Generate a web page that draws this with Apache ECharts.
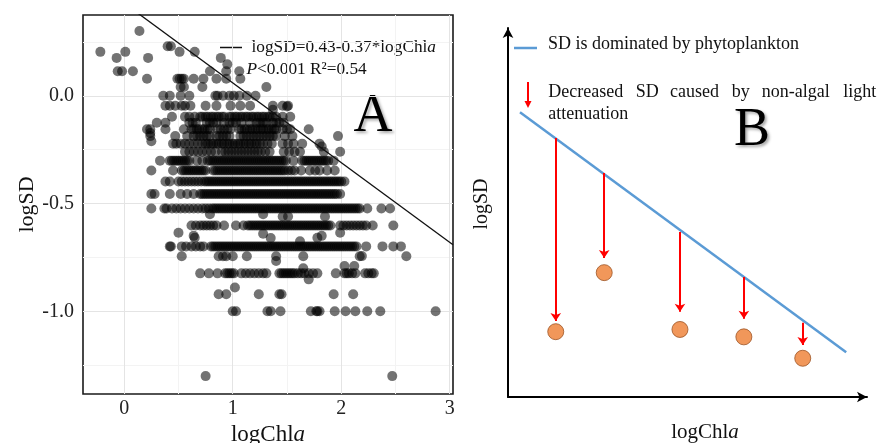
<!DOCTYPE html>
<html>
<head>
<meta charset="utf-8">
<script src="https://cdn.jsdelivr.net/npm/echarts@6/dist/echarts.min.js"></script>
<style>
  html, body { margin: 0; padding: 0; background: #ffffff; }
  #chart { width: 879px; height: 443px; }
</style>
</head>
<body>
<div id="chart"></div>
<script>
// ---------- Panel A: observed logSD vs logChla ----------
// Secchi depth readings fall on discrete levels; each list holds the logChla
// values recorded at that logSD level.
const chlaAtSD200 = [0.14];                                   // logSD 0.301
const chlaAtSD170 = [0.40, 0.43];                             // 0.230
const chlaAtSD160 = [-0.22, 0.01, 0.51, 0.65];                // 0.204
const chlaAtSD150 = [-0.07, 0.22, 0.89];                      // 0.176
const chlaAtSD140 = [0.95];                                   // 0.146
const chlaAtSD130 = [-0.06, -0.02, 0.08, 0.79, 0.94, 1.06];   // 0.114
const chlaAtSD120 = [0.21, 0.49, 0.51, 0.53, 0.55, 0.64, 0.73, 0.85, 0.94, 1.07];
const chlaAtSD110 = [0.52, 0.55, 0.72, 1.31];
const chlaAtSD100 = [0.36, 0.42, 0.52, 0.60, 0.84, 0.86, 0.91, 0.97, 1.01, 1.06, 1.13, 1.21];
const chlaAtSD090 = [0.38, 0.42, 0.47, 0.53, 0.56, 0.61, 0.75, 0.85, 0.98, 1.07, 1.16, 1.37, 1.46, 1.51];
const chlaAtSD080 = [0.44, 0.56, 0.60, 0.65, 0.70, 0.72, 0.75, 0.77, 0.80, 0.82, 0.85, 0.87, 0.90, 0.92,
  0.97, 0.99, 1.02, 1.04, 1.07, 1.09, 1.12, 1.14, 1.17, 1.19, 1.22, 1.24, 1.27, 1.29, 1.32, 1.34, 1.37,
  1.40, 1.46, 1.53];
const chlaAtSD075 = [0.30, 0.38, 0.60, 0.63, 0.66, 0.76, 0.79, 0.82, 0.85, 0.92, 0.97, 1.00, 1.03, 1.08,
  1.16, 1.22, 1.25, 1.28, 1.31, 1.37, 1.40, 1.43, 1.47];
const chlaAtSD070 = [0.21, 0.24, 0.38, 0.55, 0.62, 0.64, 0.67, 0.69, 0.72, 0.74, 0.77, 0.79, 0.86, 0.89,
  0.92, 0.95, 0.98, 1.06, 1.08, 1.11, 1.13, 1.16, 1.18, 1.21, 1.23, 1.26, 1.28, 1.31, 1.33, 1.36, 1.38,
  1.40, 1.46, 1.50, 1.53, 1.70];
const chlaAtSD065 = [0.24, 0.47, 0.58, 0.64, 0.67, 0.70, 0.73, 0.76, 0.79, 0.85, 0.88, 0.91, 0.94, 0.97,
  1.07, 1.10, 1.13, 1.16, 1.19, 1.22, 1.25, 1.28, 1.31, 1.34, 1.37, 1.40, 1.48, 1.55, 1.97];
const chlaAtSD060 = [0.45, 0.48, 0.52, 0.56, 0.60, 0.64, 0.68, 0.72, 0.75, 0.77, 0.80, 0.82, 0.85, 0.87,
  0.90, 0.92, 0.95, 0.97, 1.00, 1.02, 1.05, 1.07, 1.10, 1.12, 1.15, 1.17, 1.20, 1.22, 1.25, 1.28, 1.32,
  1.36, 1.46, 1.51, 1.56, 1.64, 1.80];
const chlaAtSD055 = [0.56, 0.60, 0.64, 0.68, 0.72, 0.76, 0.80, 0.84, 0.90, 0.93, 0.96, 0.99, 1.02, 1.05,
  1.08, 1.11, 1.14, 1.17, 1.20, 1.23, 1.26, 1.30, 1.34, 1.47, 1.52, 1.57, 1.62, 1.84, 1.99];
const chlaAtSD050 = [0.33, 0.42, 0.44, 0.46, 0.48, 0.50, 0.52, 0.54, 0.56, 0.58, 0.60, 0.67, 0.72, 0.77,
  0.79, 0.81, 0.83, 0.85, 0.87, 0.89, 0.91, 0.93, 0.95, 0.97, 0.99, 1.01, 1.03, 1.05, 1.07, 1.09, 1.11,
  1.13, 1.15, 1.17, 1.19, 1.21, 1.23, 1.25, 1.27, 1.29, 1.31, 1.33, 1.35, 1.37, 1.39, 1.41, 1.43, 1.45,
  1.47, 1.49, 1.56, 1.64, 1.66, 1.68, 1.70, 1.72, 1.74, 1.76, 1.78, 1.80, 1.82, 1.84, 1.86, 1.88, 1.93];
const chlaAtSD045 = [0.25, 0.45, 0.53, 0.55, 0.57, 0.59, 0.61, 0.63, 0.65, 0.67, 0.69, 0.71, 0.73, 0.75,
  0.82, 0.84, 0.86, 0.88, 0.90, 0.92, 0.94, 0.96, 0.98, 1.00, 1.02, 1.04, 1.06, 1.08, 1.10, 1.12, 1.14,
  1.16, 1.18, 1.20, 1.22, 1.24, 1.26, 1.28, 1.30, 1.32, 1.34, 1.36, 1.38, 1.40, 1.42, 1.44, 1.46, 1.48,
  1.51, 1.54, 1.57, 1.63, 1.71, 1.76, 1.80, 1.87, 1.94];
const chlaAtSD040 = [0.38, 0.42, 0.50, 0.53, 0.56, 0.59, 0.62, 0.65, 0.68, 0.71, 0.74, 0.76, 0.78, 0.80,
  0.82, 0.84, 0.86, 0.88, 0.90, 0.92, 0.94, 0.96, 0.98, 1.00, 1.02, 1.04, 1.06, 1.08, 1.10, 1.12, 1.14,
  1.16, 1.18, 1.20, 1.22, 1.24, 1.26, 1.28, 1.30, 1.32, 1.34, 1.36, 1.38, 1.40, 1.42, 1.44, 1.46, 1.48,
  1.50, 1.52, 1.54, 1.56, 1.58, 1.60, 1.62, 1.64, 1.66, 1.68, 1.70, 1.72, 1.74, 1.76, 1.78, 1.80, 1.82,
  1.84, 1.86, 1.88, 1.90, 1.92, 1.94, 1.96, 1.98, 2.00, 2.03];
const chlaAtSD035 = [0.25, 0.28, 0.42, 0.52, 0.58, 0.64, 0.70, 0.72, 0.74, 0.76, 0.78, 0.80, 0.82, 0.84,
  0.86, 0.88, 0.90, 0.92, 0.94, 0.96, 0.98, 1.00, 1.02, 1.04, 1.06, 1.08, 1.10, 1.12, 1.14, 1.16, 1.18,
  1.20, 1.22, 1.24, 1.26, 1.28, 1.30, 1.32, 1.34, 1.36, 1.38, 1.40, 1.42, 1.44, 1.46, 1.48, 1.50, 1.52,
  1.54, 1.56, 1.58, 1.60, 1.62, 1.64, 1.66, 1.68, 1.70, 1.72, 1.74, 1.76, 1.78, 1.80, 1.82, 1.84, 1.86,
  1.88, 1.90, 1.92, 1.94, 1.96, 1.99];
const chlaAtSD030 = [0.25, 0.37, 0.39, 0.44, 0.48, 0.52, 0.56, 0.60, 0.64, 0.68, 0.72, 0.75, 0.78, 0.81,
  0.83, 0.85, 0.87, 0.89, 0.91, 0.93, 0.95, 0.97, 0.99, 1.01, 1.03, 1.05, 1.07, 1.09, 1.11, 1.13, 1.15,
  1.17, 1.19, 1.21, 1.23, 1.25, 1.27, 1.29, 1.31, 1.33, 1.35, 1.37, 1.39, 1.41, 1.43, 1.45, 1.47, 1.49,
  1.51, 1.53, 1.55, 1.57, 1.59, 1.61, 1.63, 1.65, 1.67, 1.69, 1.71, 1.73, 1.75, 1.77, 1.79, 1.81, 1.83,
  1.85, 1.87, 1.89, 1.91, 1.93, 1.95, 1.97, 1.99, 2.01, 2.03, 2.05, 2.07, 2.09, 2.11, 2.13, 2.15, 2.17,
  2.24, 2.37, 2.45];
const chlaAtSD025 = [0.62, 0.66, 0.70, 0.73, 0.76, 0.79, 0.82, 0.85, 0.92, 1.03, 1.10, 1.14, 1.16, 1.18,
  1.20, 1.22, 1.24, 1.26, 1.28, 1.30, 1.32, 1.34, 1.36, 1.38, 1.40, 1.42, 1.44, 1.46, 1.48, 1.50, 1.52,
  1.54, 1.56, 1.58, 1.60, 1.62, 1.64, 1.66, 1.68, 1.70, 1.72, 1.74, 1.76, 1.78, 1.80, 1.82, 1.84, 1.86,
  1.88, 1.90, 1.99, 2.02, 2.05, 2.08, 2.11, 2.14, 2.17, 2.20, 2.23, 2.29, 2.48];
const chlaAtSD020 = [0.42, 0.43, 0.53, 0.57, 0.62, 0.66, 0.70, 0.73, 0.80, 0.82, 0.84, 0.86, 0.88, 0.90,
  0.92, 0.94, 0.96, 0.98, 1.00, 1.02, 1.04, 1.06, 1.08, 1.10, 1.12, 1.14, 1.16, 1.18, 1.20, 1.22, 1.24,
  1.26, 1.28, 1.30, 1.32, 1.34, 1.36, 1.38, 1.40, 1.42, 1.44, 1.46, 1.48, 1.50, 1.52, 1.54, 1.56, 1.58,
  1.60, 1.62, 1.64, 1.66, 1.68, 1.70, 1.72, 1.74, 1.76, 1.78, 1.80, 1.82, 1.84, 1.86, 1.88, 1.90, 1.92,
  1.94, 1.96, 1.98, 2.00, 2.02, 2.04, 2.06, 2.08, 2.10, 2.12, 2.14, 2.23, 2.38, 2.48, 2.55];
const chlaAtSD018 = [0.53, 0.87, 0.91, 0.94, 1.00, 1.13, 1.40, 1.65, 2.17, 2.60];
const chlaAtSD015 = [0.70, 0.78, 0.86, 0.93, 0.95, 0.97, 0.99, 1.01, 1.08, 1.12, 1.16, 1.20, 1.24, 1.28,
  1.31, 1.43, 1.45, 1.47, 1.49, 1.51, 1.53, 1.55, 1.57, 1.60, 1.63, 1.66, 1.70, 1.74, 1.78, 1.95, 2.03,
  2.05, 2.07, 2.10, 2.13, 2.22, 2.25, 2.28, 2.30];
const chlaAtSD012 = [0.87, 0.94, 1.24, 1.43, 1.45, 1.93, 2.11];
const chlaAtSD010 = [1.00, 1.03, 1.32, 1.35, 1.44, 1.72, 1.77, 1.78, 1.80, 1.94, 2.04, 2.13, 2.24, 2.36, 2.87];
const chlaAtSD005 = [0.75, 2.47];

// logSD value of each level, paired with the list above
const sdLevels = [
  [0.301, chlaAtSD200], [0.230, chlaAtSD170], [0.204, chlaAtSD160], [0.176, chlaAtSD150],
  [0.146, chlaAtSD140], [0.114, chlaAtSD130], [0.079, chlaAtSD120], [0.041, chlaAtSD110],
  [0.000, chlaAtSD100], [-0.046, chlaAtSD090], [-0.097, chlaAtSD080], [-0.125, chlaAtSD075],
  [-0.155, chlaAtSD070], [-0.187, chlaAtSD065], [-0.222, chlaAtSD060], [-0.260, chlaAtSD055],
  [-0.301, chlaAtSD050], [-0.347, chlaAtSD045], [-0.398, chlaAtSD040], [-0.456, chlaAtSD035],
  [-0.523, chlaAtSD030], [-0.602, chlaAtSD025], [-0.699, chlaAtSD020], [-0.745, chlaAtSD018],
  [-0.824, chlaAtSD015], [-0.921, chlaAtSD012], [-1.000, chlaAtSD010], [-1.301, chlaAtSD005]
];

// readings between the common levels: [logChla, logSD]
const otherReadings = [
  [0.24, -0.173], [0.25, -0.211], [0.50, -0.636], [0.64, -0.650], [0.65, -0.659], [0.79, -0.550],
  [1.28, -0.550], [1.46, -0.560], [1.51, -0.560], [1.85, -0.560], [1.40, -0.767], [1.70, -0.852],
  [1.62, -0.675], [1.78, -0.659], [1.28, -0.640], [1.35, -0.660], [1.99, -0.636], [1.82, -0.650],
  [2.19, -0.744], [2.03, -0.790], [2.12, -0.790], [1.65, -0.800], [1.02, -0.890], [1.82, -0.235],
  [1.37, -0.065], [1.50, -0.050]
];

// fitted line: logSD = 0.43 - 0.37 * logChla
const fitIntercept = 0.43;
const fitSlope = -0.37;
const chlaExtent = [-0.38, 3.03];
const sdExtent = [-1.384, 0.375];

const xTicksA = [0, 1, 2, 3];
const yTicksA = [-1.0, -0.5, 0.0];
const xMajorGridA = [0, 1, 2, 3];
const xMinorGridA = [0.5, 1.5, 2.5];
const yMajorGridA = [-1.0, -0.5, 0.0];
const yMinorGridA = [-1.25, -0.75, -0.25, 0.25];

// ---------- Panel B: conceptual sketch ----------
const trendLineX = [3.34, 94.2];
const trendLineY = [77.2, 12.1];
const arrowX = [13.3, 26.8, 47.9, 65.7, 82.1];
const arrowStartY = [70.2, 60.7, 44.7, 32.5, 20.1];
const arrowEndY = [20.6, 37.7, 23.1, 21.2, 14.1];
const observedY = [17.7, 33.7, 18.3, 16.3, 10.5];

// ---------- build series data ----------
const scatterA = [];
sdLevels.forEach(([sd, list]) => list.forEach(c => scatterA.push([c, sd])));
otherReadings.forEach(p => scatterA.push(p));

const fitLine = chlaExtent.map(c => [c, fitIntercept + fitSlope * c]);

const trendLine = trendLineX.map((x, i) => [x, trendLineY[i]]);
const arrowsB = arrowX.map((x, i) => ({ coords: [[x, arrowStartY[i]], [x, arrowEndY[i]]] }));
const dotsB = arrowX.map((x, i) => [x, observedY[i]]);

const SERIF = 'Liberation Serif';
const gridLine = (axis, values, color) => values.map(v => ({ [axis]: v, lineStyle: { color, width: 1, type: 'solid' } }));

const chart = echarts.init(document.getElementById('chart'), null, { renderer: 'canvas' });

chart.setOption({
  animation: false,
  backgroundColor: '#ffffff',
  grid: [
    { left: 83, top: 15, width: 370, height: 379, show: true, backgroundColor: '#ffffff',
      borderColor: '#1a1a1a', borderWidth: 1.6, outerBoundsMode: 'none', containLabel: false },
    { left: 508, top: 28, width: 359, height: 369, show: false, outerBoundsMode: 'none', containLabel: false }
  ],
  xAxis: [
    {
      gridIndex: 0, type: 'value', min: chlaExtent[0], max: chlaExtent[1],
      name: '{t|logChl}{i|a}', nameLocation: 'middle', nameGap: 27,
      nameTextStyle: {
        color: '#111', fontFamily: SERIF, fontSize: 23,
        rich: { t: { fontFamily: SERIF, fontSize: 23, color: '#111' },
                i: { fontFamily: SERIF, fontSize: 23, fontStyle: 'italic', color: '#111' } }
      },
      axisLine: { show: false }, axisTick: { show: false }, splitLine: { show: false },
      axisLabel: { customValues: xTicksA, color: '#222', fontFamily: SERIF, fontSize: 20, margin: 5,
                   formatter: v => String(Math.round(v)) }
    },
    {
      gridIndex: 1, type: 'value', min: 0, max: 100,
      axisLine: { show: true, onZero: false, symbol: ['none', 'arrow'], symbolSize: [8, 10],
                  lineStyle: { color: '#000', width: 2 } },
      axisTick: { show: false }, axisLabel: { show: false }, splitLine: { show: false }
    }
  ],
  yAxis: [
    {
      gridIndex: 0, type: 'value', min: sdExtent[0], max: sdExtent[1],
      name: 'logSD', nameLocation: 'middle', nameGap: 45,
      nameTextStyle: { color: '#111', fontFamily: SERIF, fontSize: 22 },
      axisLine: { show: false }, axisTick: { show: false }, splitLine: { show: false },
      axisLabel: { customValues: yTicksA, color: '#222', fontFamily: SERIF, fontSize: 20, margin: 9,
                   formatter: v => v.toFixed(1) }
    },
    {
      gridIndex: 1, type: 'value', min: 0, max: 100,
      axisLine: { show: true, onZero: false, symbol: ['none', 'arrow'], symbolSize: [8, 10],
                  lineStyle: { color: '#000', width: 2 } },
      axisTick: { show: false }, axisLabel: { show: false }, splitLine: { show: false }
    }
  ],
  series: [
    {
      // panel grid lines
      type: 'line', xAxisIndex: 0, yAxisIndex: 0, data: [], silent: true, z: 0,
      markLine: {
        silent: true, symbol: ['none', 'none'], label: { show: false }, z: 0,
        data: [
          ...gridLine('xAxis', xMinorGridA, '#f3f3f3'),
          ...gridLine('yAxis', yMinorGridA, '#f3f3f3'),
          ...gridLine('xAxis', xMajorGridA, '#e4e4e4'),
          ...gridLine('yAxis', yMajorGridA, '#e4e4e4')
        ]
      }
    },
    {
      type: 'scatter', xAxisIndex: 0, yAxisIndex: 0, data: scatterA,
      symbol: 'circle', symbolSize: 10, silent: true, z: 2, large: false,
      itemStyle: { color: '#000000', opacity: 0.55, borderWidth: 0 }
    },
    {
      type: 'line', xAxisIndex: 0, yAxisIndex: 0, data: fitLine, silent: true, z: 3,
      symbol: 'none', clip: true, lineStyle: { color: '#111', width: 1.3 }
    },
    {
      type: 'line', xAxisIndex: 1, yAxisIndex: 1, data: trendLine, silent: true, z: 2,
      symbol: 'none', lineStyle: { color: '#5B9BD5', width: 2.5 }
    },
    {
      type: 'lines', coordinateSystem: 'cartesian2d', xAxisIndex: 1, yAxisIndex: 1, data: arrowsB,
      silent: true, z: 3, symbol: ['none', 'arrow'], symbolSize: 8,
      lineStyle: { color: '#FF0000', width: 2, opacity: 1 }
    },
    {
      type: 'scatter', xAxisIndex: 1, yAxisIndex: 1, data: dotsB, silent: true, z: 4,
      symbol: 'circle', symbolSize: 16,
      itemStyle: { color: '#ED7D31', borderColor: '#9C5424', borderWidth: 1 }
    }
  ],
  graphic: [
    // panel A legend
    { type: 'line', shape: { x1: 220, y1: 47.5, x2: 242, y2: 47.5 }, style: { stroke: '#111', lineWidth: 1.5 } },
    { type: 'text', x: 251.5, y: 47, style: {
        text: '{t|logSD=0.43-0.37*logChl}{i|a}', textVerticalAlign: 'middle',
        rich: { t: { fontFamily: SERIF, fontSize: 17.3, fill: '#111' },
                i: { fontFamily: SERIF, fontSize: 17.3, fontStyle: 'italic', fill: '#111' } } } },
    { type: 'text', x: 246.5, y: 69, style: {
        text: '{i|P}{t|<0.001 R²=0.54}', textVerticalAlign: 'middle',
        rich: { t: { fontFamily: SERIF, fontSize: 17.3, fill: '#111' },
                i: { fontFamily: SERIF, fontSize: 17.3, fontStyle: 'italic', fill: '#111' } } } },
    { type: 'text', x: 373, y: 117, style: {
        text: 'A', fontFamily: SERIF, fontSize: 54, fill: '#000', textAlign: 'center', textVerticalAlign: 'middle',
        textShadowColor: 'rgba(0,0,0,0.35)', textShadowBlur: 3, textShadowOffsetX: 2, textShadowOffsetY: 2 } },

    // panel B legend
    { type: 'line', shape: { x1: 514, y1: 48, x2: 537, y2: 48 }, style: { stroke: '#5B9BD5', lineWidth: 2.5 } },
    { type: 'text', x: 548, y: 44, style: { text: 'SD is dominated by phytoplankton', fontFamily: SERIF,
        fontSize: 18, fill: '#111', textVerticalAlign: 'middle' } },
    { type: 'line', shape: { x1: 528, y1: 82, x2: 528, y2: 102 }, style: { stroke: '#FF0000', lineWidth: 2 } },
    { type: 'polygon', shape: { points: [[524.5, 101], [531.5, 101], [528, 108]] }, style: { fill: '#FF0000' } },
    ...[['Decreased', 548.3], ['SD', 635.7], ['caused', 670], ['by', 731.7], ['non-algal', 761.7], ['light', 843.3]]
      .map(([w, x]) => ({ type: 'text', x, y: 92, style: { text: w, fontFamily: SERIF, fontSize: 18,
        fill: '#111', textVerticalAlign: 'middle' } })),
    { type: 'text', x: 548.3, y: 114, style: { text: 'attenuation', fontFamily: SERIF, fontSize: 18,
        fill: '#111', textVerticalAlign: 'middle' } },
    { type: 'text', x: 752, y: 131, style: {
        text: 'B', fontFamily: SERIF, fontSize: 54, fill: '#000', textAlign: 'center', textVerticalAlign: 'middle',
        textShadowColor: 'rgba(0,0,0,0.35)', textShadowBlur: 3, textShadowOffsetX: 2, textShadowOffsetY: 2 } },
    // panel B axis titles
    { type: 'text', x: 482, y: 204, rotation: Math.PI / 2, style: { text: 'logSD', fontFamily: SERIF,
        fontSize: 20, fill: '#111', textAlign: 'center', textVerticalAlign: 'middle' } },
    { type: 'text', x: 705, y: 432, style: {
        text: '{t|logChl}{i|a}', textAlign: 'center', textVerticalAlign: 'middle',
        rich: { t: { fontFamily: SERIF, fontSize: 21, fill: '#111' },
                i: { fontFamily: SERIF, fontSize: 21, fontStyle: 'italic', fill: '#111' } } } }
  ]
});
</script>
</body>
</html>
